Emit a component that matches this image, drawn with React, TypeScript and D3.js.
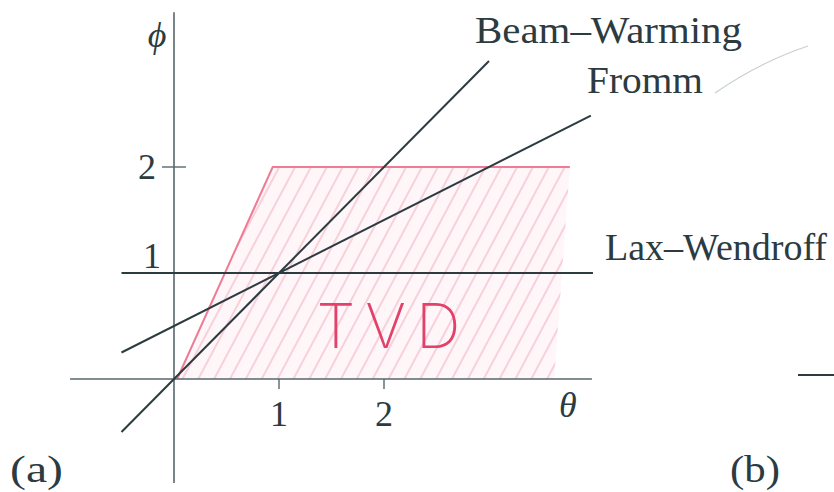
import React, { useRef, useEffect } from "react";
import * as d3 from "d3";

// limiter lines, each as two [theta, phi] end points
const beamWarming: [number, number][] = [[-0.5, -0.5], [3.0, 3.0]];
const fromm: [number, number][] = [[-0.5, 0.25], [3.97, 2.485]];
const laxWendroff: [number, number][] = [[-0.5, 1], [3.99, 1]];
// hand drawn TVD region corners
const tvdRegion: [number, number][] = [[0.03, 0], [0.94, 2.0], [3.77, 2.0], [3.62, 0]];
const thetaTicks = [1, 2];
const phiTicks = [1, 2];
const thetaAxisExtent = [-0.99, 3.98];
const phiAxisExtent = [-0.98, 3.46];

const W = 834;
const H = 492;
const INK = "#2c3b40";
const SERIF = "'Liberation Serif', 'DejaVu Serif', serif";

const App = () => {
  const svgRef = useRef<SVGSVGElement>(null);

  useEffect(() => {
    const svg = d3.select(svgRef.current);
    svg.selectAll("*").remove();

    const x = d3.scaleLinear().domain([0, 1]).range([174, 279]);
    const y = d3.scaleLinear().domain([0, 1]).range([379, 273]);
    const line = d3.line<[number, number]>().x((d) => x(d[0])).y((d) => y(d[1]));

    svg.append("rect").attr("width", W).attr("height", H).attr("fill", "#ffffff");

    /*** hatch pattern for the TVD region ***/
    const defs = svg.append("defs");
    const pat = defs
      .append("pattern")
      .attr("id", "hatch")
      .attr("patternUnits", "userSpaceOnUse")
      .attr("width", 14)
      .attr("height", 14)
      .attr("patternTransform", "rotate(28)");
    pat.append("rect").attr("width", 14).attr("height", 14).attr("fill", "#fef6f8");
    pat
      .append("line")
      .attr("x1", 3)
      .attr("x2", 3)
      .attr("y1", 0)
      .attr("y2", 14)
      .attr("stroke", "#f5b8c6")
      .attr("stroke-width", 1.2);

    svg
      .append("path")
      .attr("d", line(tvdRegion.concat([tvdRegion[0]])))
      .attr("fill", "url(#hatch)");

    // red outline: left and top edges only
    svg
      .append("path")
      .attr("d", line(tvdRegion.slice(0, 3)))
      .attr("fill", "none")
      .attr("stroke", "#ee7c95")
      .attr("stroke-width", 2);

    svg
      .append("text")
      .attr("x", x(2.09))
      .attr("y", y(0.29))
      .attr("text-anchor", "middle")
      .attr("font-family", "Inter, 'Noto Sans', sans-serif")
      .attr("font-weight", 200)
      .attr("font-size", 62)
      .attr("letter-spacing", 10)
      .attr("fill", "#e2416a")
      .text("TVD");

    /*** axes ***/
    svg
      .append("line")
      .attr("x1", x(thetaAxisExtent[0]))
      .attr("x2", x(thetaAxisExtent[1]))
      .attr("y1", y(0))
      .attr("y2", y(0))
      .attr("stroke", "#56676c")
      .attr("stroke-width", 1.6);
    svg
      .append("line")
      .attr("x1", x(0))
      .attr("x2", x(0))
      .attr("y1", y(phiAxisExtent[0]))
      .attr("y2", y(phiAxisExtent[1]))
      .attr("stroke", "#56676c")
      .attr("stroke-width", 1.6);

    thetaTicks.forEach((t) => {
      svg
        .append("line")
        .attr("x1", x(t))
        .attr("x2", x(t))
        .attr("y1", y(0))
        .attr("y2", y(0) + 10)
        .attr("stroke", "#56676c")
        .attr("stroke-width", 1.4);
      svg
        .append("text")
        .attr("x", x(t))
        .attr("y", y(0) + 47)
        .attr("text-anchor", "middle")
        .attr("font-family", SERIF)
        .attr("font-size", 36)
        .attr("fill", INK)
        .text(t);
    });

    phiTicks.forEach((p) => {
      if (p === 2) {
        svg
          .append("line")
          .attr("x1", x(0) - 12)
          .attr("x2", x(0) + 12)
          .attr("y1", y(p))
          .attr("y2", y(p))
          .attr("stroke", "#56676c")
          .attr("stroke-width", 1.4);
      }
      svg
        .append("text")
        .attr("x", x(0) - (p === 2 ? 27 : 22))
        .attr("y", y(p) + (p === 2 ? 12 : -5))
        .attr("text-anchor", "middle")
        .attr("font-family", SERIF)
        .attr("font-size", 36)
        .attr("fill", INK)
        .text(p);
    });

    svg
      .append("text")
      .attr("x", x(0) - 17)
      .attr("y", 47)
      .attr("text-anchor", "middle")
      .attr("font-family", SERIF)
      .attr("font-style", "italic")
      .attr("font-size", 36)
      .attr("fill", INK)
      .text("ϕ");
    svg
      .append("text")
      .attr("x", x(3.75))
      .attr("y", y(0) + 38)
      .attr("text-anchor", "middle")
      .attr("font-family", SERIF)
      .attr("font-style", "italic")
      .attr("font-size", 36)
      .attr("fill", INK)
      .text("θ");

    /*** limiter lines ***/
    [beamWarming, fromm, laxWendroff].forEach((pts) => {
      svg
        .append("path")
        .attr("d", line(pts))
        .attr("fill", "none")
        .attr("stroke", INK)
        .attr("stroke-width", 2);
    });

    const labels = [
      { text: "Beam–Warming", x: 475, y: 43, len: 267 },
      { text: "Fromm", x: 587, y: 93, len: 116 },
      { text: "Lax–Wendroff", x: 605, y: 260, len: 222 },
      { text: "(a)", x: 10, y: 482, len: 53 },
      { text: "(b)", x: 730, y: 482, len: 50 },
    ];
    labels.forEach((l) => {
      svg
        .append("text")
        .attr("x", l.x)
        .attr("y", l.y)
        .attr("font-family", SERIF)
        .attr("font-size", 38)
        .attr("textLength", l.len)
        .attr("lengthAdjust", "spacingAndGlyphs")
        .attr("fill", INK)
        .text(l.text);
    });

    // scan leftovers: pencil stroke and the start of figure (b)
    svg
      .append("path")
      .attr("d", "M715,93 Q760,62 808,46")
      .attr("fill", "none")
      .attr("stroke", "#c9cfd1")
      .attr("stroke-width", 1.2);
    svg
      .append("line")
      .attr("x1", 798)
      .attr("x2", 834)
      .attr("y1", 375)
      .attr("y2", 375)
      .attr("stroke", INK)
      .attr("stroke-width", 2);
  }, []);

  return (
    <svg
      ref={svgRef}
      width={W}
      height={H}
      style={{ position: "absolute", left: 0, top: 0, display: "block" }}
    ></svg>
  );
};

export default App;
